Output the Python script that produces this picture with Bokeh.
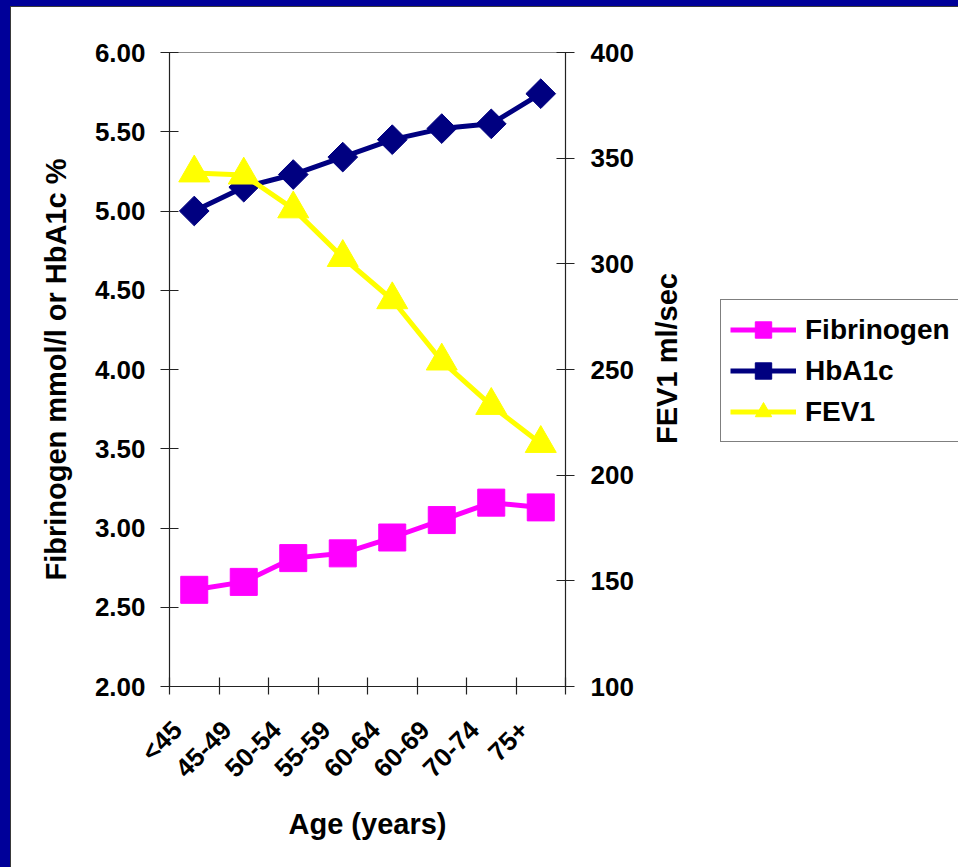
import math

from bokeh.embed import file_html
from bokeh.layouts import row
from bokeh.models import (FixedTicker, Label, Legend, LegendItem, LinearAxis,
                          NumeralTickFormatter, Range1d)
from bokeh.plotting import figure
from bokeh.resources import INLINE

# Age groups and the three series plotted against them
ages = ["<45", "45-49", "50-54", "55-59", "60-64", "60-69", "70-74", "75+"]
fibrinogen = [2.61, 2.66, 2.81, 2.84, 2.94, 3.05, 3.16, 3.13]   # mmol/l
hba1c = [5.00, 5.15, 5.23, 5.34, 5.45, 5.52, 5.55, 5.74]        # %
fev1 = [343, 342, 326, 303, 283, 254, 233, 215]                 # ml/sec

left_ticks = [2.0, 2.5, 3.0, 3.5, 4.0, 4.5, 5.0, 5.5, 6.0]
right_ticks = [100, 150, 200, 250, 300, 350, 400]

FONT = "Liberation Sans"
INK = "#222222"
MAGENTA, NAVY, YELLOW = "#FF00FF", "#000080", "#FFFF00"

W_MAIN, W_SIDE, H = 645, 313, 867
BORDER_TOP, BORDER_BOTTOM = 52, 181
FRAME_H = H - BORDER_TOP - BORDER_BOTTOM

# category centres sit half-way between the boundary ticks
xc = [i + 0.5 for i in range(len(ages))]
bounds = list(range(len(ages) + 1))
# rotated labels end a little left of their category centre
label_pos = [x - 0.34 for x in xc]

# ---------------------------------------------------------------- main chart
p = figure(
    width=W_MAIN, height=H,
    x_range=Range1d(0, len(ages)), y_range=Range1d(left_ticks[0], left_ticks[-1]),
    output_backend="svg", toolbar_location=None,
    min_border_left=169, min_border_right=80,
    min_border_top=BORDER_TOP, min_border_bottom=BORDER_BOTTOM,
    background_fill_color="white", border_fill_alpha=0,
    outline_line_color="#8c8c8c", outline_line_width=1,
)
# white slide area with the dark-blue slide edge along the top and left
p.styles = {
    "background-color": "white",
    "box-shadow": "inset 10px 6px 0 #000099, inset 11px 7px 0 #3a3a3a",
}
p.grid.visible = False
p.extra_y_ranges = {"fev": Range1d(right_ticks[0], right_ticks[-1])}


def style_axis(ax):
    ax.axis_line_color = INK
    ax.axis_line_width = 1.2
    ax.major_tick_line_color = INK
    ax.major_tick_line_width = 1.2
    ax.minor_tick_line_color = None
    ax.major_label_text_font = FONT
    ax.major_label_text_font_style = "bold"
    ax.major_label_text_font_size = "26px"
    ax.major_label_text_color = "black"
    ax.axis_label_text_font = FONT
    ax.axis_label_text_font_style = "bold"
    ax.axis_label_text_font_size = "29px"
    ax.axis_label_text_color = "black"


# bottom axis: labels near the centres, tick marks at the boundaries
xax = p.xaxis[0]
style_axis(xax)
xax.ticker = FixedTicker(ticks=label_pos, minor_ticks=bounds)
xax.major_label_overrides = {x: lab for x, lab in zip(label_pos, ages)}
xax.major_tick_in = 0
xax.major_tick_out = 0
xax.minor_tick_line_color = INK
xax.minor_tick_line_width = 1.2
xax.minor_tick_in = 9
xax.minor_tick_out = 8
xax.major_label_orientation = math.pi / 4
xax.major_label_standoff = 31
xax.axis_label = "Age (years)"
xax.axis_label_standoff = 11

# left axis
yax = p.yaxis[0]
style_axis(yax)
yax.ticker = FixedTicker(ticks=left_ticks)
yax.formatter = NumeralTickFormatter(format="0.00")
yax.major_tick_in = 9
yax.major_tick_out = 9
yax.major_label_standoff = 15
yax.axis_label = "Fibrinogen mmol/l or HbA1c %"
yax.axis_label_standoff = 20

# right axis for FEV1 (its title is set beside it, reading upwards)
rax = LinearAxis(y_range_name="fev", ticker=FixedTicker(ticks=right_ticks))
style_axis(rax)
rax.major_tick_in = 9
rax.major_tick_out = 9
rax.major_label_standoff = 16
p.add_layout(rax, "right")

# series
p.line(xc, fibrinogen, line_color=MAGENTA, line_width=5)
p.scatter(xc, fibrinogen, marker="square", size=27, color=MAGENTA)

p.line(xc, hba1c, line_color=NAVY, line_width=5)
p.scatter(xc, hba1c, marker="square", angle=math.pi / 4, size=21, color=NAVY)

p.line(xc, fev1, line_color=YELLOW, line_width=5, y_range_name="fev")
p.scatter(xc, fev1, marker="triangle", size=31, color=YELLOW, y_range_name="fev")

# ------------------------------------------------- side strip: title + legend
# its frame lines up with the main frame; one data unit = one pixel
side = figure(
    width=W_SIDE, height=H,
    x_range=Range1d(0, W_SIDE), y_range=Range1d(0, FRAME_H),
    x_axis_type=None, y_axis_type=None,
    output_backend="svg", toolbar_location=None,
    min_border_left=0, min_border_right=0,
    min_border_top=BORDER_TOP, min_border_bottom=BORDER_BOTTOM,
    background_fill_alpha=0, border_fill_alpha=0, outline_line_color=None,
)
side.styles = {
    "background-color": "white",
    "box-shadow": "inset 0 6px 0 #000099, inset 0 7px 0 #3a3a3a",
}
side.grid.visible = False
# legend swatches reuse the series styles on a range that keeps them off-canvas
side.extra_x_ranges = {"off": Range1d(-100, -90)}

lf = side.line(xc, fibrinogen, line_color=MAGENTA, line_width=5, x_range_name="off")
sf = side.scatter(xc, fibrinogen, marker="square", size=27, color=MAGENTA, x_range_name="off")
lh = side.line(xc, hba1c, line_color=NAVY, line_width=5, x_range_name="off")
sh = side.scatter(xc, hba1c, marker="square", angle=math.pi / 4, size=21, color=NAVY,
                  x_range_name="off")
lv = side.line(xc, fev1, line_color=YELLOW, line_width=5, x_range_name="off")
sv = side.scatter(xc, fev1, marker="triangle", size=31, color=YELLOW, x_range_name="off")

side.add_layout(Label(
    x=21, y=328, text="FEV1 ml/sec", angle=math.pi / 2,
    text_align="center", text_baseline="middle",
    text_font=FONT, text_font_style="bold", text_font_size="29px", text_color="black",
))

legend = Legend(
    items=[
        LegendItem(label="Fibrinogen", renderers=[lf, sf]),
        LegendItem(label="HbA1c", renderers=[lh, sh]),
        LegendItem(label="FEV1", renderers=[lv, sv]),
    ],
    location=(75, 244),
    border_line_color="black", border_line_width=1,
    background_fill_color="white", background_fill_alpha=1,
    label_text_font=FONT, label_text_font_style="bold",
    label_text_font_size="28px", label_text_color="black",
    glyph_width=66, glyph_height=41, label_height=41,
    spacing=0, padding=9, margin=0, label_standoff=9,
)
side.add_layout(legend, "center")

page = row(p, side, spacing=0)

with open("out.html", "w") as f:
    f.write(file_html(page, INLINE))
